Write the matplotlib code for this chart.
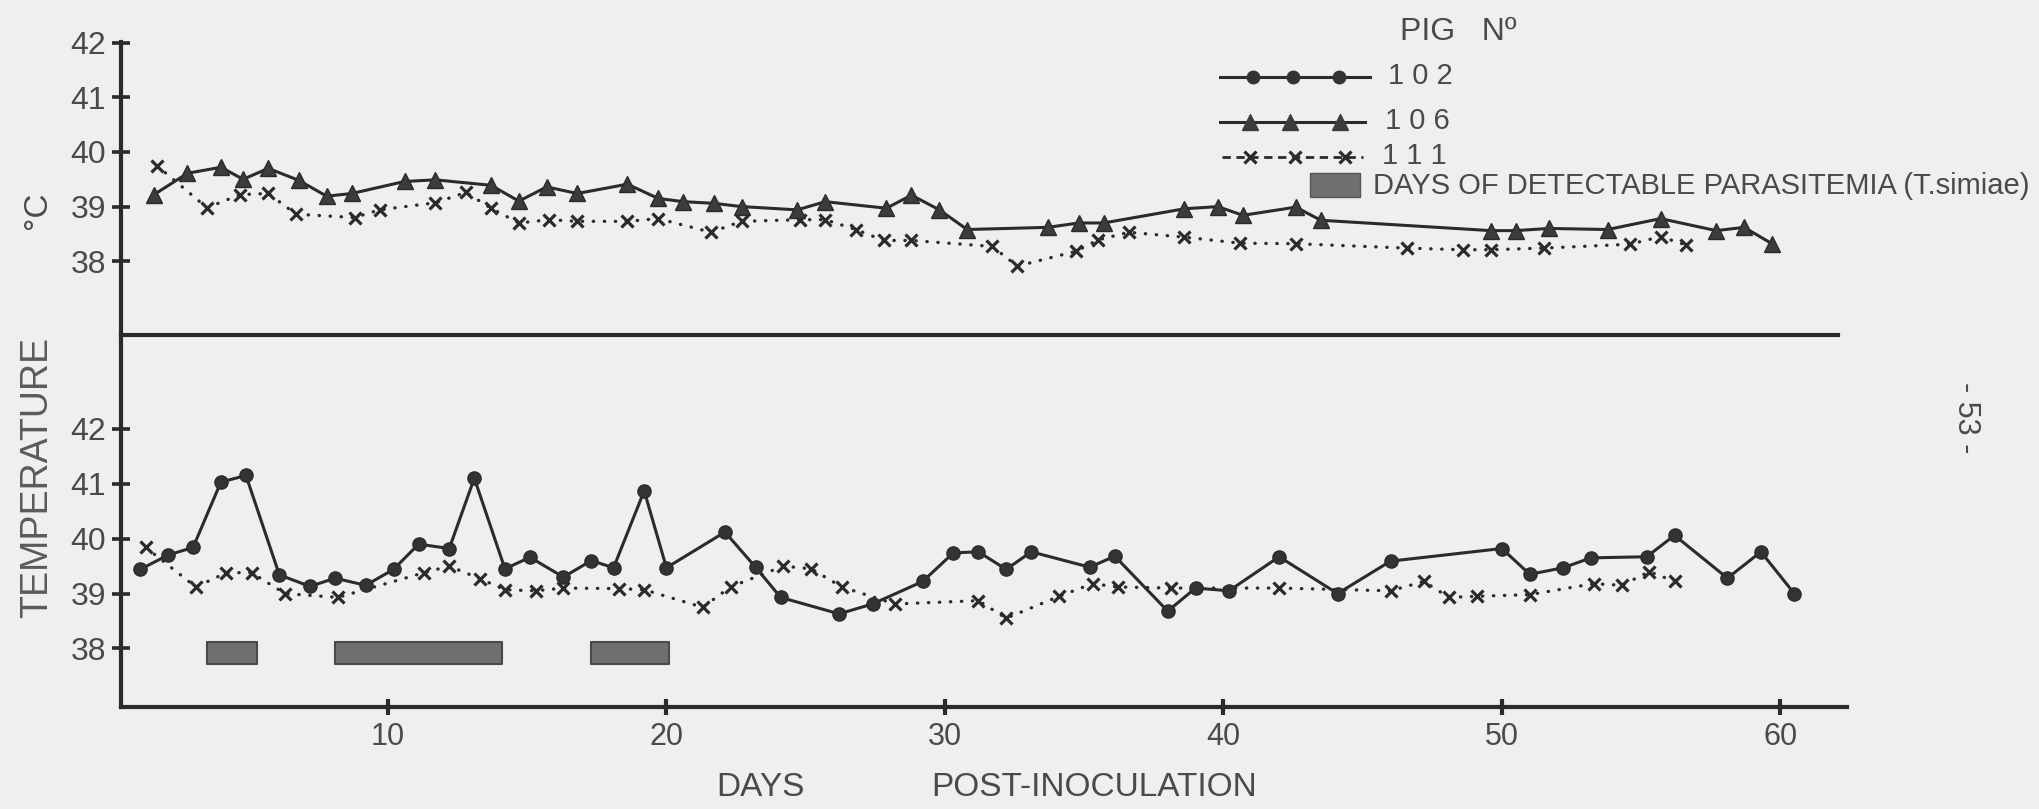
import matplotlib.pyplot as plt

plt.rcParams['font.family'] = ['Liberation Sans Narrow', 'Liberation Sans', 'DejaVu Sans']

BG = "#efefed"
INK = "#2b2b2b"
TXT = "#4a4a4a"

# Upper panel: pig 106 and pig 111 (temperature, deg C)
days_106 = [1.6, 2.8, 4.0, 4.8, 5.7, 6.8, 7.8, 8.7, 10.6, 11.7, 13.7, 14.7, 15.7,
            16.8, 18.6, 19.7, 20.6, 21.7, 22.7, 24.7, 25.7, 27.9, 28.8, 29.8, 30.8,
            33.7, 34.8, 35.7, 38.6, 39.8, 40.7, 42.6, 43.5, 49.6, 50.5, 51.7, 53.8,
            55.7, 57.7, 58.7, 59.7]
temp_106 = [39.22, 39.61, 39.72, 39.50, 39.70, 39.48, 39.19, 39.24, 39.46, 39.49, 39.39,
            39.10, 39.36, 39.24, 39.41, 39.15, 39.09, 39.06, 39.00, 38.94, 39.09, 38.97,
            39.21, 38.94, 38.58, 38.62, 38.70, 38.70, 38.96, 39.00, 38.84, 38.99, 38.75,
            38.56, 38.56, 38.60, 38.58, 38.78, 38.56, 38.62, 38.32]

days_111_top = [1.7, 3.5, 4.7, 5.7, 6.7, 8.8, 9.7, 11.7, 12.8, 13.7, 14.7, 15.8, 16.8,
                18.6, 19.7, 21.6, 22.7, 24.8, 25.7, 26.8, 27.8, 28.8, 31.7, 32.6, 34.7,
                35.5, 36.6, 38.6, 40.6, 42.6, 46.6, 48.6, 49.6, 51.5, 54.6, 55.7, 56.6]
temp_111_top = [39.75, 38.98, 39.22, 39.24, 38.86, 38.80, 38.94, 39.07, 39.26, 38.97,
                38.70, 38.76, 38.73, 38.73, 38.78, 38.53, 38.73, 38.76, 38.76, 38.58,
                38.38, 38.38, 38.27, 37.91, 38.18, 38.39, 38.53, 38.44, 38.33, 38.32,
                38.24, 38.21, 38.21, 38.24, 38.31, 38.45, 38.30]

# Lower panel: pig 102 and pig 111
days_102 = [1.1, 2.1, 3.0, 4.0, 4.9, 6.1, 7.2, 8.1, 9.2, 10.2, 11.1, 12.2, 13.1, 14.2,
            15.1, 16.3, 17.3, 18.1, 19.2, 20.0, 22.1, 23.2, 24.1, 26.2, 27.4, 29.2,
            30.3, 31.2, 32.2, 33.1, 35.2, 36.1, 38.0, 39.0, 40.2, 42.0, 44.1, 46.0,
            50.0, 51.0, 52.2, 53.2, 55.2, 56.2, 58.1, 59.3, 60.5]
temp_102 = [39.44, 39.70, 39.84, 41.03, 41.15, 39.34, 39.13, 39.28, 39.15, 39.44, 39.90,
            39.82, 41.10, 39.45, 39.66, 39.30, 39.60, 39.47, 40.87, 39.47, 40.12, 39.48,
            38.93, 38.63, 38.81, 39.22, 39.74, 39.76, 39.44, 39.76, 39.48, 39.68, 38.68,
            39.10, 39.05, 39.67, 39.00, 39.59, 39.82, 39.35, 39.47, 39.65, 39.67, 40.06,
            39.28, 39.76, 39.00]

days_111_bot = [1.3, 3.1, 4.2, 5.1, 6.3, 8.2, 11.3, 12.2, 13.3, 14.2, 15.3, 16.3, 18.3,
                19.2, 21.3, 22.3, 24.2, 25.2, 26.3, 28.2, 31.2, 32.2, 34.1, 35.3, 36.2,
                38.1, 42.0, 46.0, 47.2, 48.1, 49.1, 51.0, 53.3, 54.3, 55.3, 56.2]
temp_111_bot = [39.84, 39.12, 39.38, 39.38, 39.00, 38.93, 39.38, 39.50, 39.27, 39.07,
                39.05, 39.10, 39.09, 39.07, 38.75, 39.12, 39.50, 39.45, 39.12, 38.81,
                38.87, 38.55, 38.95, 39.18, 39.12, 39.10, 39.10, 39.05, 39.22, 38.93,
                38.95, 38.98, 39.18, 39.15, 39.40, 39.22]

# days of detectable parasitemia (T. simiae)
para_start = [3.5, 8.1, 17.3]
para_end = [5.3, 14.1, 20.1]

fig = plt.figure(figsize=(20.39, 8.09), dpi=100)
fig.patch.set_facecolor(BG)

ax_top = fig.add_axes([0.0591, 0.586, 0.8423, 0.3625])
ax_bot = fig.add_axes([0.0591, 0.1265, 0.8467, 0.4595])

dotted = dict(color=INK, lw=2.4, linestyle=(0, (0.1, 3.2)), dash_capstyle='round',
              marker='x', ms=9, mew=2.3, mec=INK)

ax_top.plot(days_111_top, temp_111_top, **dotted, zorder=2)
ax_top.plot(days_106, temp_106, color=INK, lw=2.2, marker='^', ms=12,
            mfc='#3c3c3c', mec=INK, zorder=3)

ax_bot.broken_barh([(s, e - s) for s, e in zip(para_start, para_end)], (37.72, 0.4),
                   facecolors='#6f6f6f', edgecolors='#4a4a4a', lw=1.5)
ax_bot.plot(days_111_bot, temp_111_bot, **dotted, zorder=2)
ax_bot.plot(days_102, temp_102, color=INK, lw=2.2, marker='o', ms=9.5,
            mfc='#333333', mec=INK, zorder=3)

for ax in (ax_top, ax_bot):
    ax.set_facecolor('none')
    ax.spines['right'].set_visible(False)
    ax.spines['top'].set_visible(False)
    ax.spines['left'].set_linewidth(3)
    ax.spines['bottom'].set_linewidth(3)
    ax.spines['left'].set_color(INK)
    ax.spines['bottom'].set_color(INK)
    ax.set_yticks([38, 39, 40, 41, 42])
    ax.tick_params(axis='y', direction='inout', length=13, width=2.6, color=INK,
                   labelsize=23, labelcolor=TXT, pad=4)

ax_top.set_xlim(0.395, 62.07)
ax_top.set_ylim(36.65, 42.02)
ax_top.set_xticks([])
ax_bot.set_xlim(0.395, 62.39)
ax_bot.set_ylim(36.94, 43.71)
ax_bot.set_xticks([10, 20, 30, 40, 50, 60])
ax_bot.tick_params(axis='x', direction='inout', length=12, width=3, color=INK,
                   labelsize=22, labelcolor=TXT, pad=5)

# axis titles
fig.text(37 / 2039, 1 - 210 / 809, "°C", rotation=90, fontsize=24, color=TXT,
         ha='center', va='center')
fig.text(37 / 2039, 1 - 478 / 809, "TEMPERATURE", rotation=90, fontsize=27,
         color='#5a5a5a', ha='center', va='center')
fig.text(716 / 2039, 1 - 787 / 809, "DAYS", fontsize=24, color=TXT,
         family=['Liberation Sans', 'DejaVu Sans'], ha='left', va='center')
fig.text(931 / 2039, 1 - 787 / 809, "POST-INOCULATION", fontsize=24, color=TXT,
         family=['Liberation Sans', 'DejaVu Sans'], ha='left', va='center')
fig.text(1966 / 2039, 1 - 418 / 809, "- 53 -", rotation=-90, fontsize=22,
         color=TXT, ha='center', va='center')

# hand-made legend in pixel space
lg = fig.add_axes([0, 0, 1, 1])
lg.set_xlim(0, 2039)
lg.set_ylim(809, 0)
lg.axis('off')

lg.text(1400, 32, "PIG   Nº", fontsize=23, color=TXT, ha='left', va='center')
lg.plot([1220, 1370], [77, 77], color=INK, lw=2.2)
lg.plot([1253, 1293, 1339], [77, 77, 77], 'o', ms=9, color='#333333')
lg.text(1388, 76, "1 0 2", fontsize=21, color=TXT, ha='left', va='center')
lg.plot([1220, 1365], [122, 122], color=INK, lw=2.2)
lg.plot([1250, 1290, 1340], [122, 122, 122], '^', ms=11, color='#3c3c3c')
lg.text(1385, 121, "1 0 6", fontsize=21, color=TXT, ha='left', va='center')
lg.plot([1222, 1363], [157, 157], color=INK, lw=2, linestyle=(0, (3, 2)))
lg.plot([1250, 1295, 1345], [157, 157, 157], 'x', ms=9, mew=2.3, color=INK)
lg.text(1382, 156, "1 1 1", fontsize=21, color=TXT, ha='left', va='center')
lg.add_patch(plt.Rectangle((1310, 173), 50, 24, facecolor='#6f6f6f',
                           edgecolor='#555555', lw=1))
lg.text(1373, 186, "DAYS OF DETECTABLE PARASITEMIA (T.simiae)", fontsize=21,
        color=TXT, ha='left', va='center')

fig.savefig("out.png", dpi=100, facecolor=BG)
